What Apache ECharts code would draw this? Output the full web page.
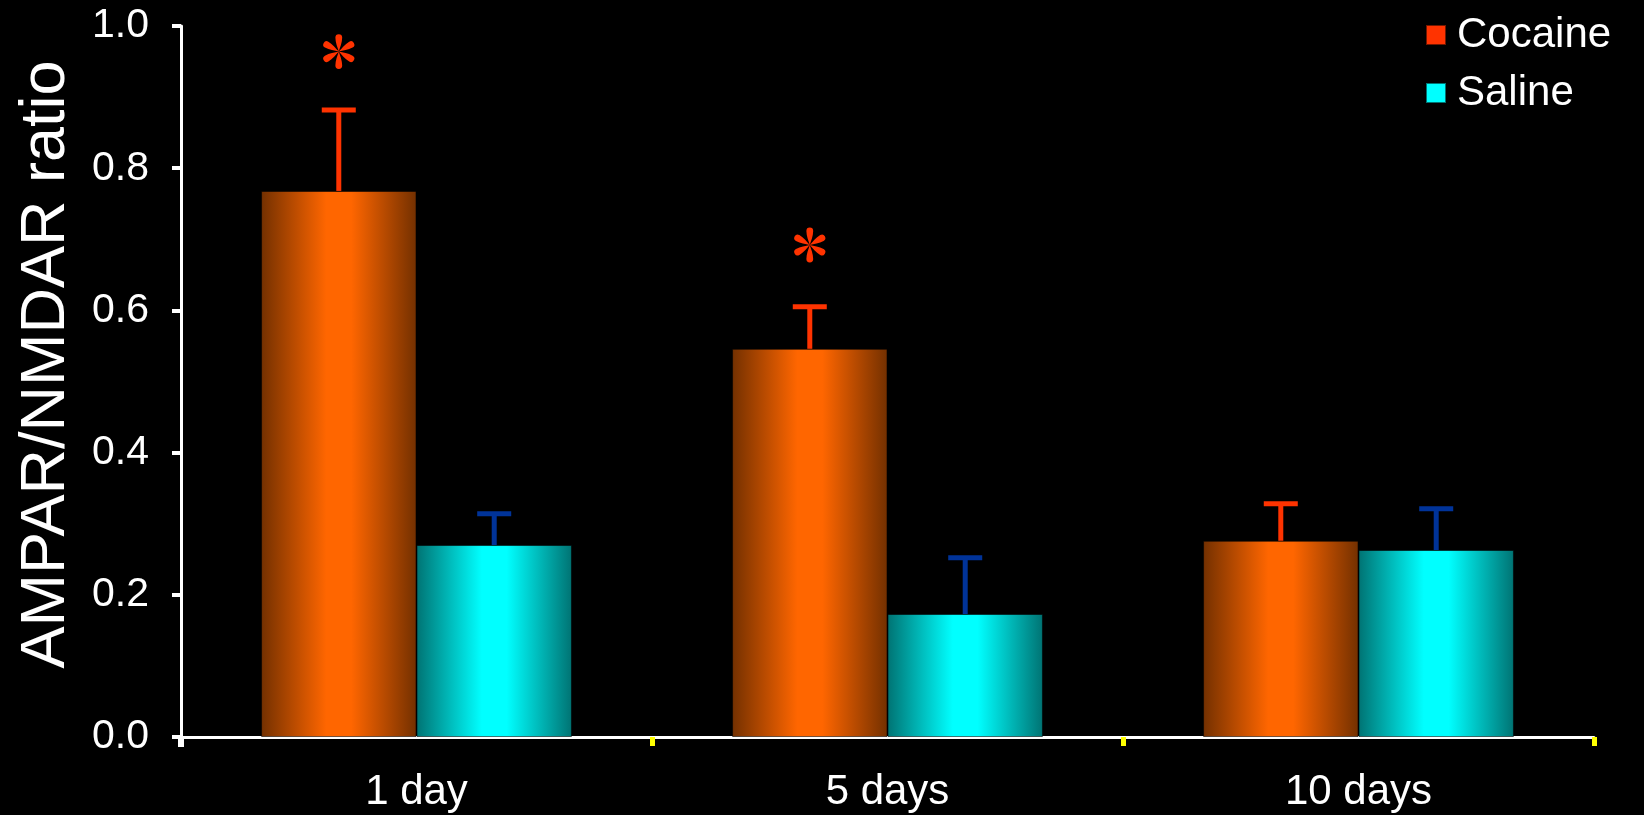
<!DOCTYPE html>
<html>
<head>
<meta charset="utf-8">
<title>AMPAR/NMDAR ratio</title>
<script src="https://cdn.jsdelivr.net/npm/echarts@6/dist/echarts.min.js"></script>
<style>
  html, body { margin: 0; padding: 0; background: #000; }
  #chart { width: 1644px; height: 815px; }
</style>
</head>
<body>
<div id="chart"></div>
<script>
// Withdrawal time points
const categories = ['1 day', '5 days', '10 days'];
// Group means and SEM
const cocaineMean = [0.768, 0.546, 0.276];
const cocaineSem  = [0.114, 0.059, 0.052];
const salineMean  = [0.270, 0.173, 0.263];
const salineSem   = [0.044, 0.079, 0.058];
// Significance markers: [category index, height]
const significance = [[0, 0.964], [1, 0.692]];
// Y axis range
const yMin = 0, yMax = 1.0, yStep = 0.2;

const FONT = "'Liberation Sans', Arial, Helvetica, sans-serif";
const CAT_GAP = 0.34;

function shade(edge, mid) {
  return {
    type: 'linear', x: 0, y: 0, x2: 1, y2: 0,
    colorStops: [
      { offset: 0, color: edge },
      { offset: 0.42, color: mid },
      { offset: 0.58, color: mid },
      { offset: 1, color: edge }
    ]
  };
}

function errorBars(name, means, sems, side, color) {
  return {
    type: 'custom',
    name: name + ' SEM',
    z: 5,
    silent: true,
    data: means.map((m, i) => [i, m, m + sems[i]]),
    renderItem(params, api) {
      const band = api.size([1, 0])[0];
      const barW = band * (1 - CAT_GAP) / 2;
      const base = api.coord([api.value(0), api.value(1)]);
      const top = api.coord([api.value(0), api.value(2)]);
      const x = base[0] + side * barW / 2;
      const half = 17;
      return {
        type: 'group',
        children: [
          { type: 'line', shape: { x1: x, y1: base[1], x2: x, y2: top[1] },
            style: { stroke: color, lineWidth: 5 } },
          { type: 'line', shape: { x1: x - half, y1: top[1], x2: x + half, y2: top[1] },
            style: { stroke: color, lineWidth: 5 } }
        ]
      };
    }
  };
}

// One teardrop petal pointing up from the origin; six of them form the asterisk
const PETAL_D = 14, PETAL_R = 3.4;
const petalPath =
  'M0,0 C-1.2,-4 -' + PETAL_R + ',-' + (PETAL_D - PETAL_R * 1.5) + ' -' + PETAL_R + ',-' + PETAL_D +
  ' A' + PETAL_R + ',' + PETAL_R + ' 0 1 1 ' + PETAL_R + ',-' + PETAL_D +
  ' C' + PETAL_R + ',-' + (PETAL_D - PETAL_R * 1.5) + ' 1.2,-4 0,0 Z';

const chart = echarts.init(document.getElementById('chart'), null, { renderer: 'canvas' });

chart.setOption({
  backgroundColor: '#000',
  animation: false,
  textStyle: { fontFamily: FONT },
  grid: { left: 181, right: 50, top: 26, bottom: 78, containLabel: false },
  legend: {
    left: 1420, top: 9,
    orient: 'vertical',
    itemWidth: 20, itemHeight: 20, itemGap: 16,
    icon: 'rect',
    textStyle: { color: '#fff', fontSize: 42, fontFamily: FONT, padding: [0, 0, 0, 6], lineHeight: 42 },
    data: [
      { name: 'Cocaine', itemStyle: { color: '#FF3300' } },
      { name: 'Saline', itemStyle: { color: '#00FFFF' } }
    ]
  },
  xAxis: {
    type: 'category',
    data: categories,
    boundaryGap: true,
    axisLine: { lineStyle: { color: '#fff', width: 3 } },
    axisTick: {
      show: true,
      interval: 0,
      length: 9,
      lineStyle: { color: '#FFFF00', width: 5 }
    },
    axisLabel: { color: '#fff', fontSize: 42, fontFamily: FONT, margin: 34 }
  },
  yAxis: {
    type: 'value',
    min: yMin, max: yMax, interval: yStep,
    name: 'AMPAR/NMDAR ratio',
    nameLocation: 'middle',
    nameRotate: 90,
    nameGap: 103,
    nameTextStyle: { color: '#fff', fontSize: 63, fontFamily: FONT, padding: [0, 0, 0, 34] },
    axisLine: { show: true, lineStyle: { color: '#fff', width: 3 } },
    axisTick: { show: true, length: 9, lineStyle: { color: '#fff', width: 4 } },
    splitLine: { show: false },
    axisLabel: {
      color: '#fff', fontSize: 41, fontFamily: FONT, margin: 32,
      formatter: (v) => v.toFixed(1)
    }
  },
  series: [
    {
      name: 'Cocaine',
      type: 'bar',
      data: cocaineMean,
      barGap: '0%',
      barCategoryGap: (CAT_GAP * 100) + '%',
      itemStyle: { color: shade('#733000', '#FF6600'), borderColor: 'rgba(0,0,0,0.55)', borderWidth: 1 }
    },
    {
      name: 'Saline',
      type: 'bar',
      data: salineMean,
      itemStyle: { color: shade('#007373', '#00FFFF'), borderColor: 'rgba(0,0,0,0.55)', borderWidth: 1 }
    },
    errorBars('Cocaine', cocaineMean, cocaineSem, -1, '#FF3300'),
    errorBars('Saline', salineMean, salineSem, 1, '#003399'),
    {
      // significance asterisks above the cocaine bars
      name: 'significance',
      type: 'custom',
      z: 6,
      silent: true,
      data: significance,
      renderItem(params, api) {
        const band = api.size([1, 0])[0];
        const barW = band * (1 - CAT_GAP) / 2;
        const p = api.coord([api.value(0), api.value(1)]);
        const cx = p[0] - barW / 2;
        const petals = [];
        for (let k = 0; k < 6; k++) {
          petals.push({
            type: 'path',
            x: cx, y: p[1],
            rotation: k * Math.PI / 3,
            shape: { pathData: petalPath },
            style: { fill: '#FF3300' }
          });
        }
        return { type: 'group', children: petals };
      }
    },
    {
      // white tick continuing the value axis below the origin
      name: 'origin',
      type: 'custom',
      z: 50,
      zlevel: 1,
      clip: false,
      silent: true,
      data: [[0, yMin]],
      renderItem(params, api) {
        const band = api.size([1, 0])[0];
        const p = api.coord([api.value(0), api.value(1)]);
        const x = p[0] - band / 2;
        return {
          type: 'rect',
          shape: { x: x - 3, y: p[1] - 1, width: 6, height: 11 },
          style: { fill: '#fff' }
        };
      }
    }
  ]
});
</script>
</body>
</html>
